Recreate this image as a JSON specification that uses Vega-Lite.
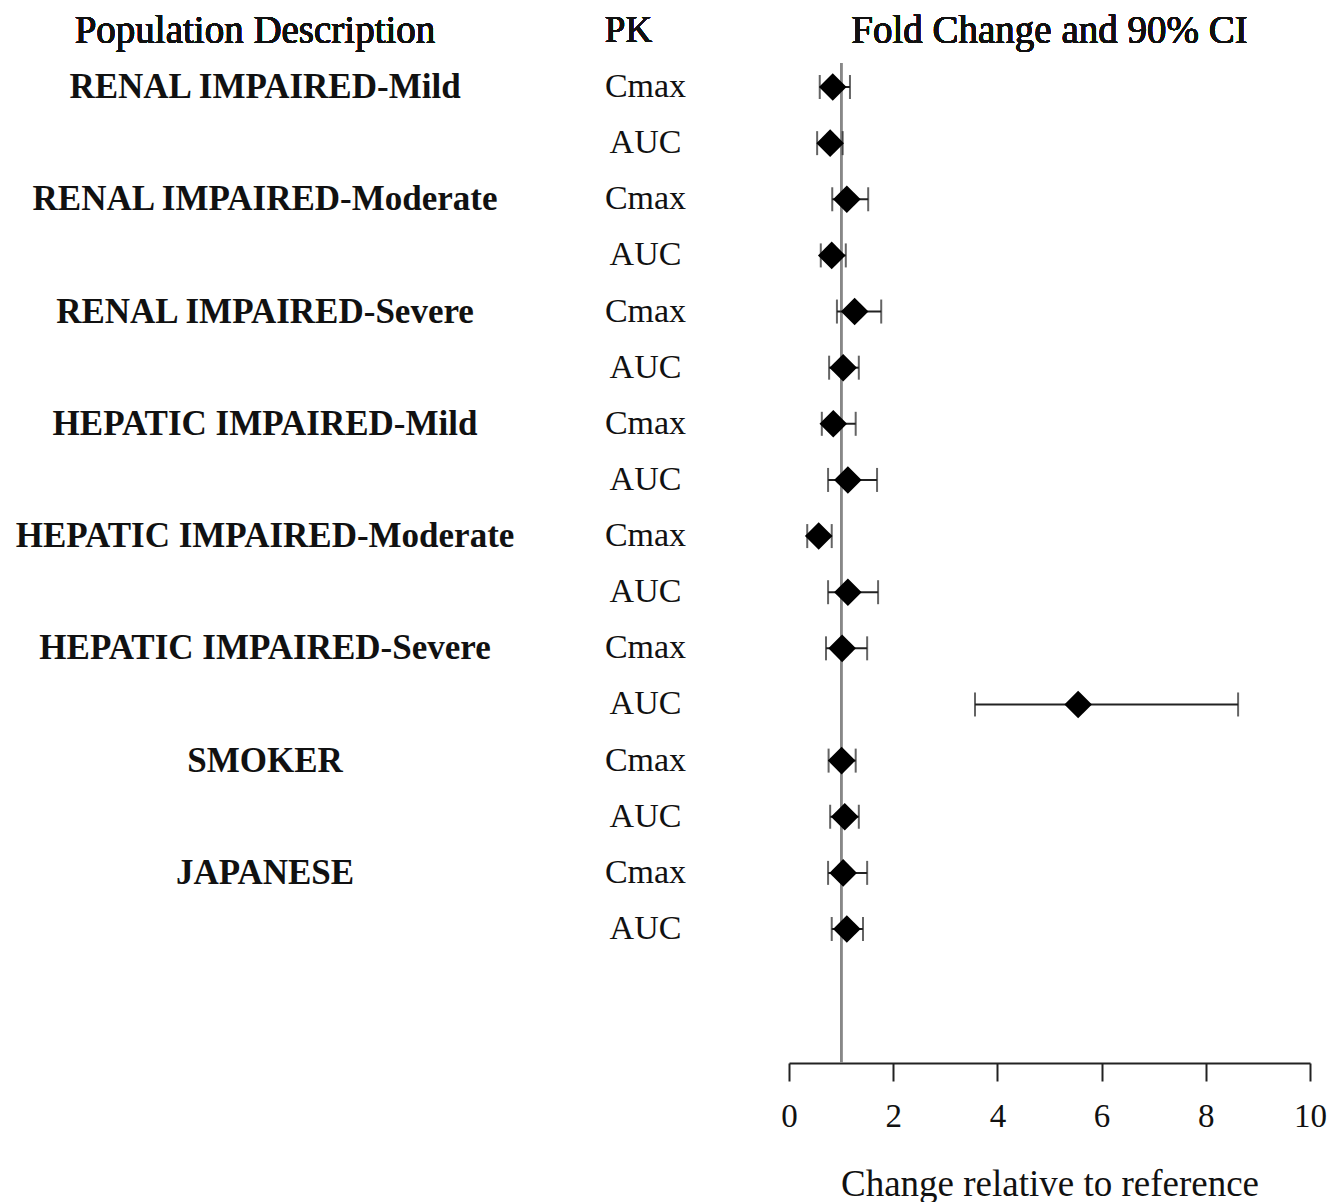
{
  "$schema": "https://vega.github.io/schema/vega-lite/v6.json",
  "padding": 0,
  "background": "white",
  "spacing": 0,
  "bounds": "flush",
  "config": {
    "view": {"stroke": null},
    "font": "Liberation Serif",
    "text": {"font": "Liberation Serif", "color": "#111"}
  },
  "datasets": {
    "rows": [
      {"row": 1, "pop": "RENAL IMPAIRED-Mild", "pk": "Cmax", "est": 0.84, "lo": 0.59, "hi": 1.17},
      {"row": 2, "pop": "RENAL IMPAIRED-Mild", "pk": "AUC", "est": 0.79, "lo": 0.54, "hi": 1.03},
      {"row": 3, "pop": "RENAL IMPAIRED-Moderate", "pk": "Cmax", "est": 1.11, "lo": 0.83, "hi": 1.52},
      {"row": 4, "pop": "RENAL IMPAIRED-Moderate", "pk": "AUC", "est": 0.82, "lo": 0.61, "hi": 1.09},
      {"row": 5, "pop": "RENAL IMPAIRED-Severe", "pk": "Cmax", "est": 1.26, "lo": 0.92, "hi": 1.77},
      {"row": 6, "pop": "RENAL IMPAIRED-Severe", "pk": "AUC", "est": 1.04, "lo": 0.77, "hi": 1.34},
      {"row": 7, "pop": "HEPATIC IMPAIRED-Mild", "pk": "Cmax", "est": 0.85, "lo": 0.63, "hi": 1.28},
      {"row": 8, "pop": "HEPATIC IMPAIRED-Mild", "pk": "AUC", "est": 1.13, "lo": 0.75, "hi": 1.69},
      {"row": 9, "pop": "HEPATIC IMPAIRED-Moderate", "pk": "Cmax", "est": 0.57, "lo": 0.35, "hi": 0.82},
      {"row": 10, "pop": "HEPATIC IMPAIRED-Moderate", "pk": "AUC", "est": 1.13, "lo": 0.75, "hi": 1.71},
      {"row": 11, "pop": "HEPATIC IMPAIRED-Severe", "pk": "Cmax", "est": 1.02, "lo": 0.71, "hi": 1.50},
      {"row": 12, "pop": "HEPATIC IMPAIRED-Severe", "pk": "AUC", "est": 5.55, "lo": 3.57, "hi": 8.62},
      {"row": 13, "pop": "SMOKER", "pk": "Cmax", "est": 1.01, "lo": 0.76, "hi": 1.28},
      {"row": 14, "pop": "SMOKER", "pk": "AUC", "est": 1.07, "lo": 0.79, "hi": 1.34},
      {"row": 15, "pop": "JAPANESE", "pk": "Cmax", "est": 1.04, "lo": 0.75, "hi": 1.50},
      {"row": 16, "pop": "JAPANESE", "pk": "AUC", "est": 1.11, "lo": 0.82, "hi": 1.42}
    ]
  },
  "hconcat": [
    {
      "width": 530,
      "height": 1063,
      "data": {"name": "rows"},
      "layer": [
        {
          "mark": {"type": "text", "fontSize": 39, "dx": -10},
          "encoding": {
            "y": {"datum": 0, "type": "quantitative", "scale": {"domain": [-0.55, 18.387], "reverse": true, "zero": false, "nice": false}, "axis": null},
            "text": {"value": "Population Description"}
          }
        },
        {
          "transform": [{"filter": "datum.pk === 'Cmax'"}],
          "mark": {"type": "text", "fontSize": 35, "fontWeight": "bold"},
          "encoding": {
            "y": {"field": "row", "type": "quantitative", "scale": {"domain": [-0.55, 18.387], "reverse": true, "zero": false, "nice": false}, "axis": null},
            "text": {"field": "pop"}
          }
        }
      ]
    },
    {
      "width": 259,
      "height": 1063,
      "data": {"name": "rows"},
      "layer": [
        {
          "mark": {"type": "text", "fontSize": 37, "dx": -31},
          "encoding": {
            "y": {"datum": 0, "type": "quantitative", "scale": {"domain": [-0.55, 18.387], "reverse": true, "zero": false, "nice": false}, "axis": null},
            "text": {"value": "PK"}
          }
        },
        {
          "mark": {"type": "text", "fontSize": 34, "dx": -14},
          "encoding": {
            "y": {"field": "row", "type": "quantitative", "scale": {"domain": [-0.55, 18.387], "reverse": true, "zero": false, "nice": false}, "axis": null},
            "text": {"field": "pk"}
          }
        }
      ]
    },
    {
      "width": 521,
      "height": 1063,
      "data": {"name": "rows"},
      "encoding": {
        "y": {"field": "row", "type": "quantitative", "scale": {"domain": [-0.55, 18.387], "reverse": true, "zero": false, "nice": false}, "axis": null}
      },
      "layer": [
        {
          "mark": {"type": "rule", "color": "#888", "strokeWidth": 2},
          "encoding": {
            "x": {"datum": 1, "type": "quantitative"},
            "y": {"datum": 0.572, "type": "quantitative"},
            "y2": {"datum": 18.387}
          }
        },
        {
          "mark": {"type": "rule", "color": "#222", "strokeWidth": 2},
          "encoding": {
            "x": {
              "field": "lo", "type": "quantitative",
              "scale": {"domain": [0, 10], "nice": false, "zero": false},
              "axis": {
                "values": [0, 2, 4, 6, 8, 10],
                "grid": false,
                "domainColor": "#222",
                "domainWidth": 2,
                "tickColor": "#222",
                "tickWidth": 2,
                "tickSize": 18,
                "labelFlush": false,
                "labelFont": "Liberation Serif",
                "labelFontSize": 33,
                "labelColor": "#111",
                "labelPadding": 19,
                "title": "Change relative to reference",
                "titleFont": "Liberation Serif",
                "titleFontSize": 37,
                "titleFontWeight": "normal",
                "titleColor": "#111",
                "titlePadding": 33
              }
            },
            "x2": {"field": "hi"}
          }
        },
        {
          "mark": {"type": "tick", "orient": "vertical", "size": 24, "thickness": 2, "color": "#222"},
          "encoding": {"x": {"field": "lo", "type": "quantitative"}}
        },
        {
          "mark": {"type": "tick", "orient": "vertical", "size": 24, "thickness": 2, "color": "#222"},
          "encoding": {"x": {"field": "hi", "type": "quantitative"}}
        },
        {
          "mark": {"type": "point", "shape": "diamond", "filled": true, "size": 760, "color": "#000", "opacity": 1},
          "encoding": {"x": {"field": "est", "type": "quantitative"}}
        },
        {
          "mark": {"type": "text", "fontSize": 39},
          "encoding": {
            "x": {"datum": 5, "type": "quantitative"},
            "y": {"datum": 0, "type": "quantitative"},
            "text": {"value": "Fold Change and 90% CI"}
          }
        }
      ]
    }
  ]
}
